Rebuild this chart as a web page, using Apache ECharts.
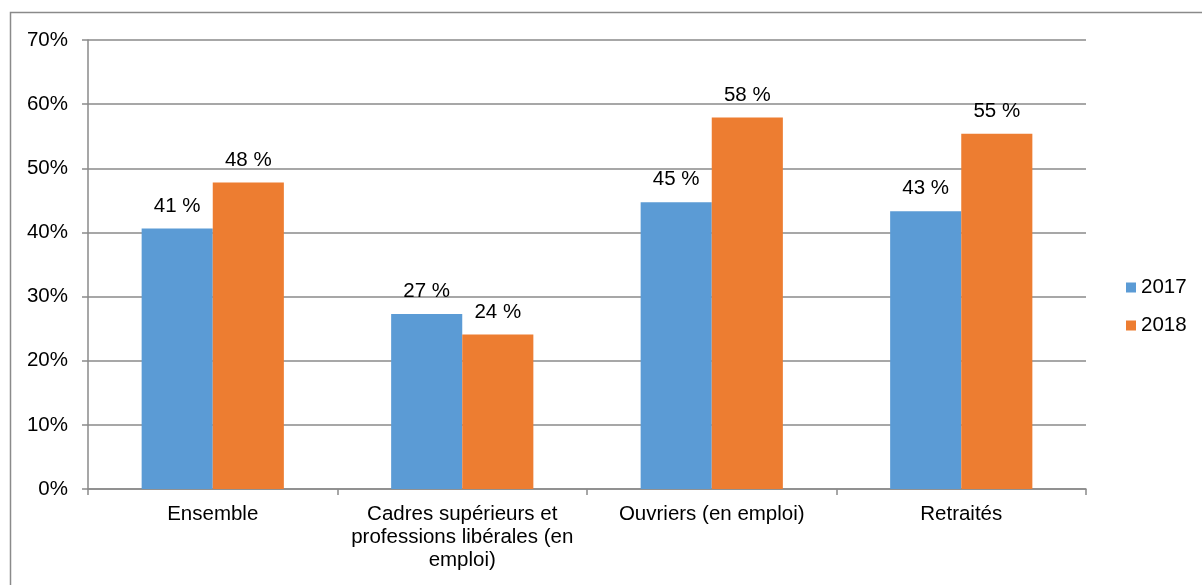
<!DOCTYPE html>
<html>
<head>
<meta charset="utf-8">
<script src="https://cdn.jsdelivr.net/npm/echarts@6/dist/echarts.min.js"></script>
<style>
html,body{margin:0;padding:0;background:#fff;}
#chart{width:1202px;height:585px;}
</style>
</head>
<body>
<div id="chart"></div>
<script>
var categories = ['Ensemble', 'Cadres supérieurs et\nprofessions libérales (en\nemploi)', 'Ouvriers (en emploi)', 'Retraités'];
var seriesNames = ['2017', '2018'];
var values2017 = [40.6, 27.3, 44.7, 43.3];
var values2018 = [47.8, 24.1, 57.9, 55.4];
var yTicks = [0, 10, 20, 30, 40, 50, 60, 70];

var FONT = '"Liberation Sans", Arial, sans-serif';
var FS = 20.5;
var chart = echarts.init(document.getElementById('chart'));
function bar(name, data, color) {
  return {
    name: name, type: 'bar', data: data, barGap: '0%', barCategoryGap: '43%',
    itemStyle: { color: color },
    label: {
      show: true, position: 'top', distance: 12,
      fontFamily: FONT, fontSize: FS, color: '#000',
      formatter: function (p) { return Math.round(p.value) + ' %'; }
    }
  };
}
chart.setOption({
  animation: false,
  backgroundColor: '#fff',
  textStyle: { fontFamily: FONT },
  graphic: [{
    type: 'rect', left: 8, top: 10, silent: true,
    shape: { x: 0, y: 0, width: 1400, height: 800 },
    style: { fill: 'none', stroke: '#8a8a8a', lineWidth: 1.5 }
  }],
  grid: { left: 88, right: 116, top: 40, bottom: 96, containLabel: false },
  legend: {
    orient: 'vertical', left: 1121, top: 272,
    itemWidth: 10, itemHeight: 10, itemGap: 17,
    icon: 'rect',
    textStyle: { fontFamily: FONT, fontSize: FS, color: '#000' },
    data: seriesNames
  },
  xAxis: {
    type: 'category', data: categories,
    axisLine: { lineStyle: { color: '#8a8a8a', width: 1.5 } },
    axisTick: { show: true, length: 6, lineStyle: { color: '#8a8a8a', width: 1.5 } },
    axisLabel: { fontFamily: FONT, fontSize: FS, color: '#000', lineHeight: 23, margin: 14, interval: 0 }
  },
  yAxis: {
    type: 'value', min: yTicks[0], max: yTicks[yTicks.length - 1], interval: 10,
    axisLine: { show: true, lineStyle: { color: '#8a8a8a', width: 1.5 } },
    axisTick: { show: true, length: 6, lineStyle: { color: '#8a8a8a', width: 1.5 } },
    splitLine: { show: true, lineStyle: { color: '#8a8a8a', width: 1.5 } },
    axisLabel: { fontFamily: FONT, fontSize: FS, color: '#000', margin: 20, formatter: '{value}%' }
  },
  series: [
    bar(seriesNames[0], values2017, '#5B9BD5'),
    bar(seriesNames[1], values2018, '#ED7D31')
  ]
});
</script>
</body>
</html>
